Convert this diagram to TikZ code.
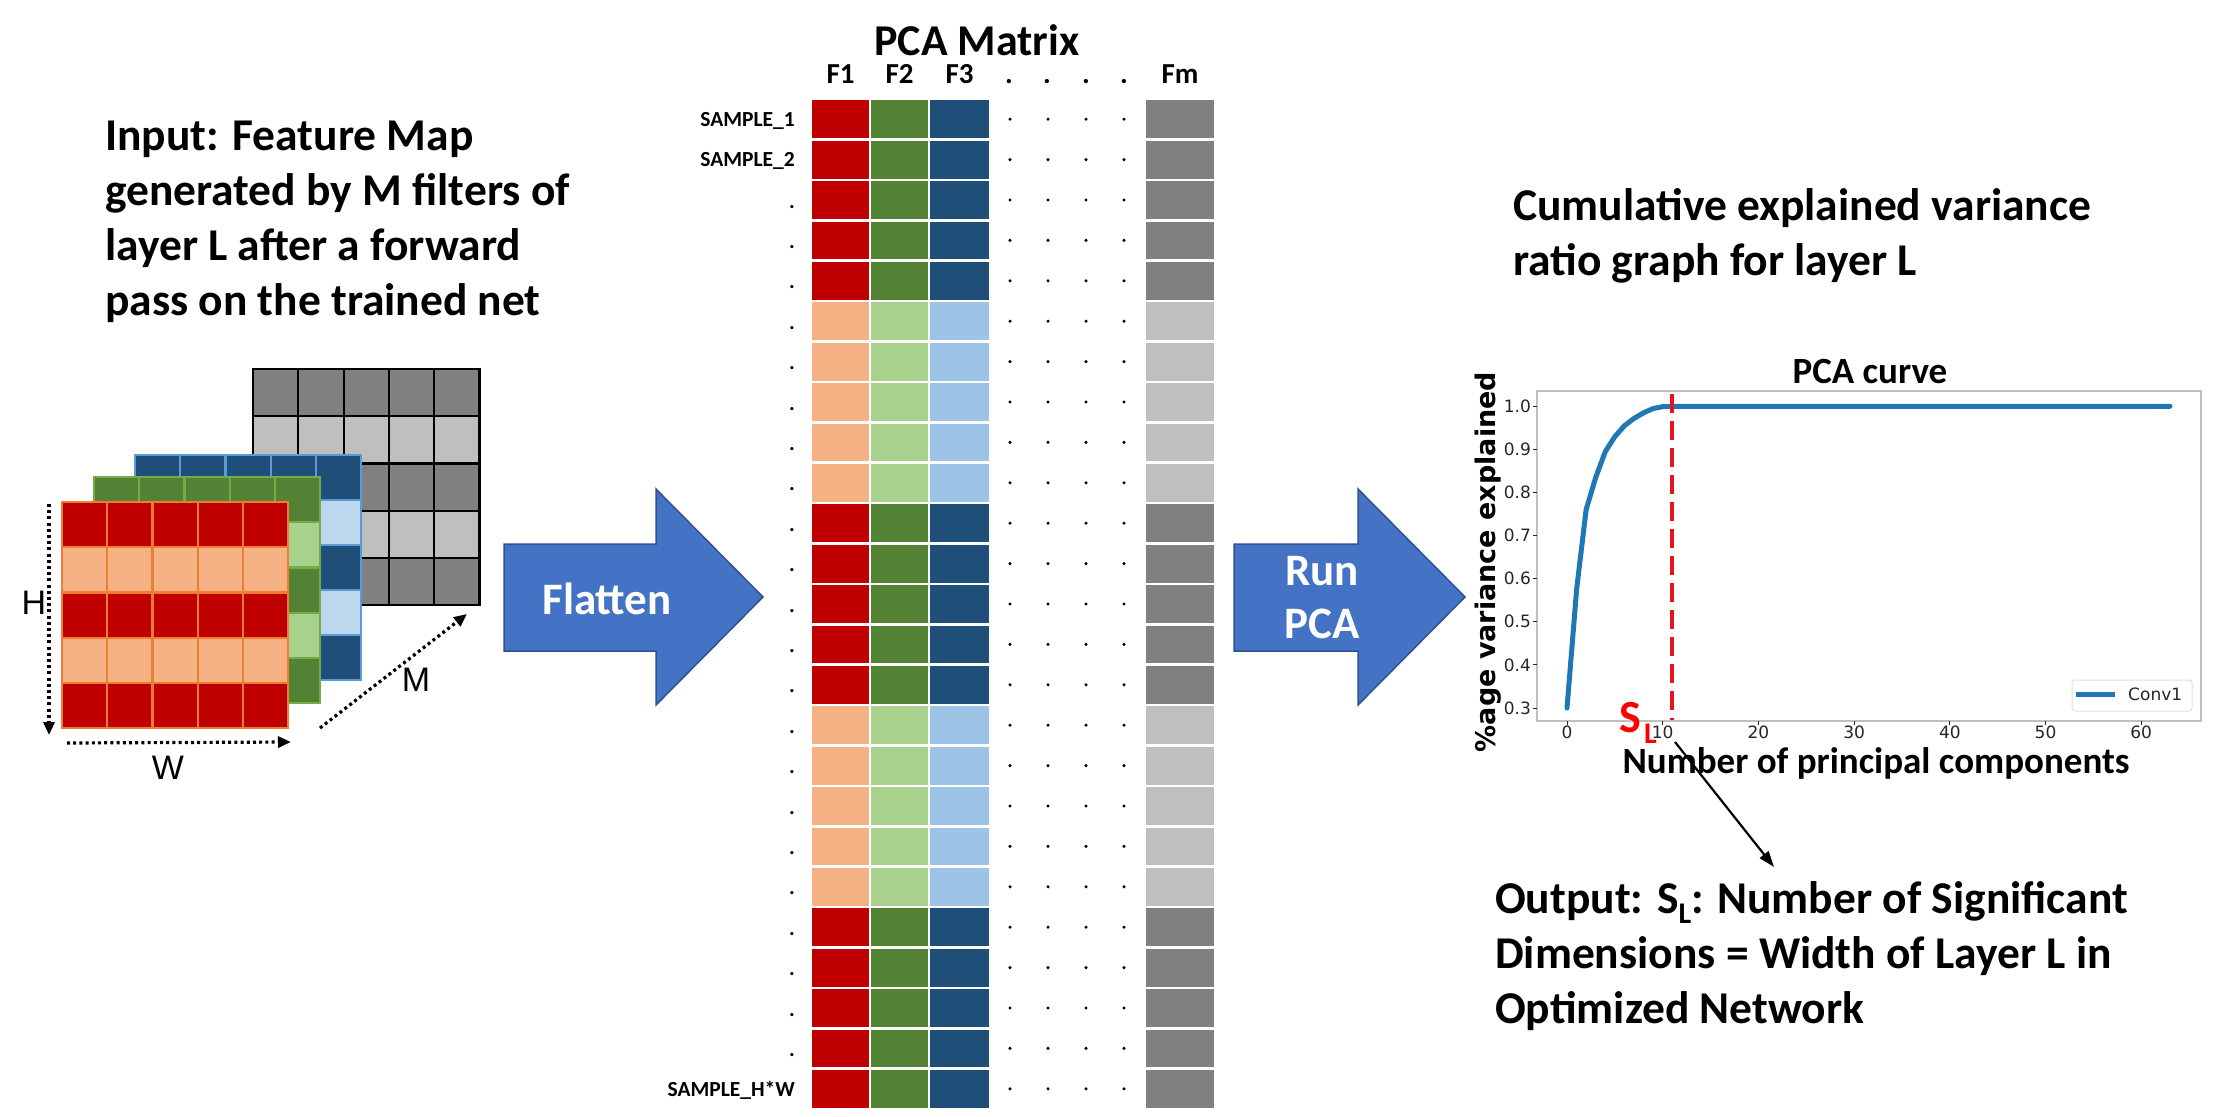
\documentclass[tikz,border=0pt]{standalone}
\usepackage{fontspec}
\setmainfont{Carlito}
\newfontfamily\arialfont{Liberation Sans}
\newfontfamily\dejavufont{DejaVu Sans}
\usetikzlibrary{arrows.meta}

\definecolor{redD}{HTML}{C00000}
\definecolor{redL}{HTML}{F4B183}
\definecolor{redB}{HTML}{ED7D31}
\definecolor{grnD}{HTML}{548235}
\definecolor{grnL}{HTML}{A9D18E}
\definecolor{grnB}{HTML}{70AD47}
\definecolor{bluD}{HTML}{1F4E79}
\definecolor{bluL}{HTML}{BDD7EE}
\definecolor{bluM}{HTML}{9DC3E6}
\definecolor{bluB}{HTML}{5B9BD5}
\definecolor{gryD}{HTML}{808080}
\definecolor{gryL}{HTML}{BFBFBF}
\definecolor{arrowFill}{HTML}{4472C4}
\definecolor{arrowLine}{HTML}{2F528F}
\definecolor{plotBlue}{HTML}{1F77B4}
\definecolor{cutRed}{HTML}{E8141B}
\definecolor{frameGray}{HTML}{BFBFBF}
\definecolor{tickGray}{HTML}{262626}

\newcommand{\setfs}[2]{\fontsize{#1}{#2}\selectfont}

% one 5x5 slice of the feature map: x0, y0, cell width, cell height, dark, light, line colour
\newcommand{\featslice}[7]{%
  \foreach \i in {0,...,4} {
    \pgfmathtruncatemacro{\rowpar}{mod(\i,2)}
    \ifnum\rowpar=0 \def\rowcol{#5}\else\def\rowcol{#6}\fi
    \fill[fill=\rowcol] (#1,{#2+\i*#4}) rectangle ({#1+5*#3},{#2+(\i+1)*#4});
  }
  \foreach \i in {0,...,5} {
    \draw[#7, line width=2.2, line cap=rect] ({#1+\i*#3},#2) -- ({#1+\i*#3},{#2+5*#4});
    \draw[#7, line width=2.2, line cap=rect] (#1,{#2+\i*#4}) -- ({#1+5*#3},{#2+\i*#4});
  }
}

\begin{document}
\begin{tikzpicture}[x=1pt,y=-1pt,
  bigtext/.style={inner sep=0pt, font=\bfseries\setfs{45.5}{55}, align=left},
  titletext/.style={inner sep=0pt, font=\bfseries\setfs{44}{48}},
  hdrtext/.style={inner sep=0pt, font=\bfseries\setfs{29}{32}},
  rowlab/.style={inner sep=0pt, font=\bfseries\setfs{21.5}{24}},
  arrowtext/.style={inner sep=0pt, text=white, font=\bfseries\setfs{45}{53}, align=center},
  dimlab/.style={inner sep=0pt, font=\arialfont\setfs{34}{36}},
  dotarrow/.style={line width=3.2, dash pattern=on 3pt off 3.2pt, -{Triangle[length=13pt,width=11pt]}},
  bluearrow/.style={fill=arrowFill, draw=arrowLine, line width=1.5, line join=miter},
  ticklab/.style={inner sep=0pt, text=tickGray, font=\dejavufont\setfs{17}{19}},
  ylab/.style={inner sep=0pt, font=\dejavufont\bfseries\setfs{27}{30}},
  plottitle/.style={inner sep=0pt, font=\bfseries\setfs{37}{40}},
  pcacurve/.style={plotBlue, line width=5, line join=round, line cap=round},
  cutline/.style={cutRed, line width=4.2, dash pattern=on 19pt off 8pt},
  blackarrow/.style={line width=2.2, -{Triangle[length=16pt,width=11pt]}},
  slbig/.style={inner sep=0pt, text=red, font=\bfseries\setfs{46}{50}},
  slsmall/.style={inner sep=0pt, text=red, font=\bfseries\setfs{30}{32}}
]
\useasboundingbox (0,0) rectangle (2215,1116);
\fill[white] (0,0) rectangle (2215,1116);

% ---------- input feature map (base anchor = last line) ----------
\node[bigtext, anchor=base west] (inputTxt) at (105,315)
  {Input: Feature Map\\generated by M filters of\\layer L after a forward\\pass on the trained net};

\featslice{253}{369}{45.3}{47.2}{gryD}{gryL}{black}
\featslice{135}{455}{45.2}{45}{bluD}{bluL}{bluB}
\featslice{94}{477}{45.2}{45.2}{grnD}{grnL}{grnB}
\featslice{62}{502}{45.2}{45.2}{redD}{redL}{redB}

\coordinate (hTop) at (49,504);
\coordinate (hBot) at (49,735);
\coordinate (wLeft) at (67,743);
\coordinate (wRight) at (291,742);
\coordinate (mLow) at (320,728);
\coordinate (mHigh) at (467,614);
\draw[dotarrow] (hTop) -- (hBot);
\draw[dotarrow] (wLeft) -- (wRight);
\draw[dotarrow] (mLow) -- (mHigh);
\node[dimlab] (hLab) at (34,603) {H};
\node[dimlab] (wLab) at (168,768) {W};
\node[dimlab] (mLab) at (416,680) {M};

% ---------- flatten arrow ----------
\draw[bluearrow] (504,544) -- (656,544) -- (656,489) -- (763,597) -- (656,705) -- (656,651) -- (504,651) -- cycle;
\node[arrowtext] (flatTxt) at (607,599) {Flatten};

% ---------- PCA matrix ----------
\node[titletext, anchor=base] (pcaTitle) at (977,56) {PCA Matrix};
\node[hdrtext, anchor=base] (hF1) at (840.5,83) {F1};
\node[hdrtext, anchor=base] (hF2) at (899.5,83) {F2};
\node[hdrtext, anchor=base] (hF3) at (959.5,83) {F3};
\node[hdrtext, anchor=base] (hFm) at (1180,83) {Fm};
\foreach \dx [count=\k] in {1009,1047,1086,1124}
  \node[hdrtext, anchor=base] (hdot\k) at (\dx,83) {.};

\foreach \r in {0,...,24} {
  \pgfmathtruncatemacro{\grp}{mod(int(\r/5),2)}
  \pgfmathsetmacro{\yt}{99+\r*40.4}
  \pgfmathsetmacro{\yb}{\yt+40.4}
  \pgfmathsetmacro{\yc}{\yt+20.2}
  \foreach \xl/\xr/\colD/\colL in {812/869/redD/redL, 871/928/grnD/grnL, 930/989/bluD/bluM, 1146/1214/gryD/gryL} {
    \ifnum\grp=0 \edef\cellcol{\colD}\else\edef\cellcol{\colL}\fi
    \fill[fill=\cellcol] (\xl,\yt+1.3) rectangle (\xr,\yb-1.3);
  }
  \foreach \dx in {1010,1048,1086,1124}
    \fill (\dx,\yc) circle (1.7);
}

\node[rowlab, anchor=base east] (sOne) at (795,126) {SAMPLE\_1};
\node[rowlab, anchor=base east] (sTwo) at (795,166.5) {SAMPLE\_2};
\foreach \r in {2,...,23} {
  \pgfmathsetmacro{\yd}{99+(\r+0.5)*40.4+8}
  \node[rowlab, anchor=base east] (rowdot\r) at (795,\yd) {.};
}
\node[rowlab, anchor=base east] (sLast) at (795,1096) {SAMPLE\_H*W};

% ---------- run PCA arrow ----------
\draw[bluearrow] (1234,544) -- (1358,544) -- (1358,489) -- (1465,597) -- (1358,705) -- (1358,651) -- (1234,651) -- cycle;
\node[arrowtext] (runTxt) at (1322,598) {Run\\PCA};

% ---------- cumulative variance plot ----------
\node[bigtext, anchor=base west] (graphTxt) at (1513,275)
  {Cumulative explained variance\\ratio graph for layer L};

\draw[frameGray, line width=2] (1537,391) rectangle (2201,721);
\foreach \v in {3,...,10} {
  \pgfmathsetmacro{\ty}{708-43.14*(\v-3)}
  \draw[tickGray, line width=1] (1533,\ty) -- (1537,\ty);
  \node[ticklab, anchor=east] (ytick\v) at (1531,\ty) {\ifnum\v<10 0.\v\else 1.0\fi};
}
\foreach \k in {0,...,6} {
  \pgfmathsetmacro{\tx}{1567+95.7*\k}
  \pgfmathtruncatemacro{\xlab}{10*\k}
  \draw[tickGray, line width=1] (\tx,721) -- (\tx,725);
  \node[ticklab, anchor=north] (xtick\k) at (\tx,726) {\xlab};
}

\draw[pcacurve] (1567,708) -- (1576.6,589.5) -- (1586.1,509.7) -- (1595.7,477.4)
  -- (1605.3,451.6) -- (1614.9,436.5) -- (1624.4,425.7) -- (1634.0,418.4)
  -- (1643.6,412.8) -- (1653.1,408.5) -- (1662.7,406.7) -- (1672.3,406.3) -- (2170,406.3);

\draw[cutline] (1672,394) -- (1672,720);

\draw[rounded corners=3, draw=black!12, fill=white, line width=1] (2072,680) rectangle (2192,711);
\draw[plotBlue, line width=5] (2076,694) -- (2115,694);
\node[ticklab, anchor=west] (legendTxt) at (2128,694) {Conv1};

\node[ylab, rotate=90] (yLabel) at (1488,562) {\%age variance explained};
\node[plottitle, anchor=base] (plotTitle) at (1870,383) {PCA curve};
\node[plottitle, anchor=base] (xLabel) at (1876,773) {Number of principal components};

\node[slbig, anchor=base west] (sMark) at (1619,732) {S};
\node[slsmall, anchor=base west] (lMark) at (1644,743) {L};

\coordinate (cutFoot) at (1675,742);
\coordinate (outHead) at (1774,867);
\draw[blackarrow] (cutFoot) -- (outHead);

% ---------- output (base anchor = last line) ----------
\node[bigtext, anchor=base west] (outTxt) at (1495,1023)
  {Output: S\raisebox{-10pt}{\setfs{30}{30}L}: Number of Significant\\Dimensions = Width of Layer L in\\Optimized Network};
\end{tikzpicture}
\end{document}
